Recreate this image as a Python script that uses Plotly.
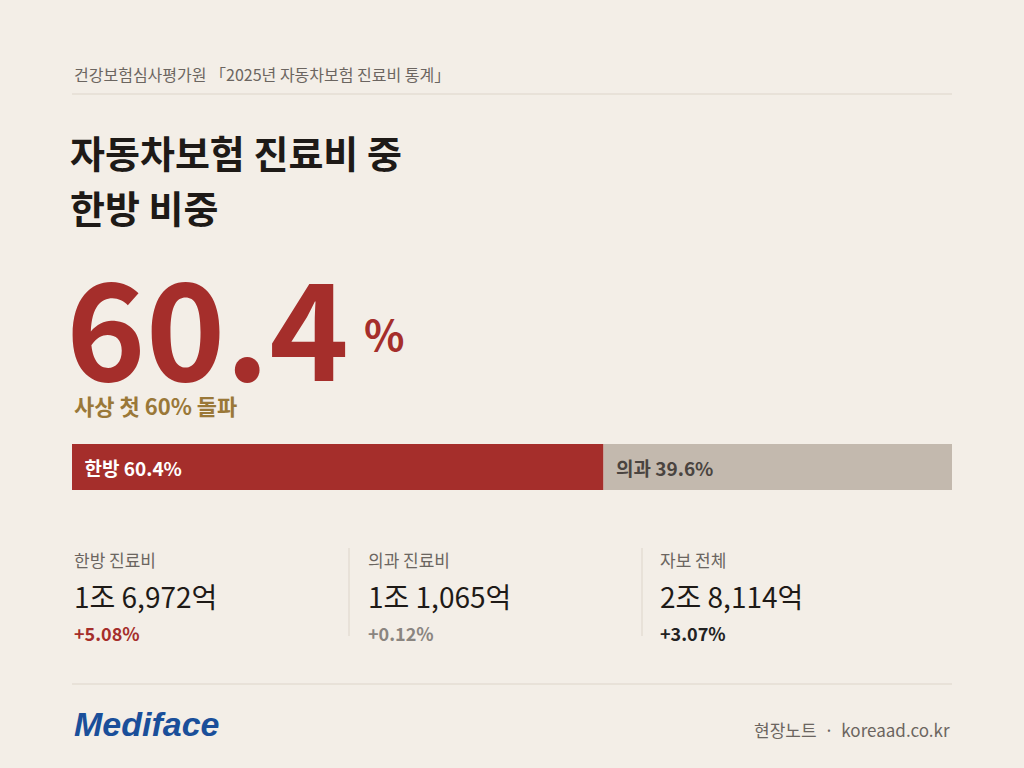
import plotly.graph_objects as go

W, H = 1024, 768
BG = "#f3eee7"
RED = "#a52e2b"
GREY = "#c3b9ae"
GOLD = "#9a7838"
SANS = "Noto Sans CJK KR"

# data
shares = [60.4, 39.6]
share_labels = ["한방", "의과"]
stat_titles = ["한방 진료비", "의과 진료비", "자보 전체"]
stat_values = ["1조 6,972억", "1조 1,065억", "2조 8,114억"]
stat_changes = ["+5.08%", "+0.12%", "+3.07%"]
stat_colors = [RED, "#8a8580", "#222222"]


def px(x):
    return x / W


def py(y):
    return 1 - y / H


fig = go.Figure()

bar_colors = [RED, GREY]
text_colors = ["white", "#4a4440"]
base = 0
for lab, val, c, tc in zip(share_labels, shares, bar_colors, text_colors):
    fig.add_trace(go.Bar(
        x=[val], y=[0], base=base, orientation="h", marker=dict(color=c, line=dict(width=0)),
        width=1, text=[f"\u2002<b>{lab} {val}%</b>"], textposition="inside", insidetextanchor="start",
        textfont=dict(family=SANS, size=19, color=tc), showlegend=False, hoverinfo="skip"))
    base += val

fig.update_layout(
    width=W, height=H, margin=dict(l=0, r=0, t=0, b=0),
    paper_bgcolor=BG, plot_bgcolor=BG, barmode="overlay",
    xaxis=dict(domain=[px(72), px(952)], range=[0, 100], visible=False, fixedrange=True),
    yaxis=dict(domain=[py(490), py(444)], range=[-0.5, 0.5], visible=False, fixedrange=True),
)

ann = []


def text(x, y, s, size, color, xanchor="left", yanchor="middle", family=SANS):
    ann.append(dict(x=px(x), y=py(y), xref="paper", yref="paper", text=s, showarrow=False,
                    xanchor=xanchor, yanchor=yanchor, align="left",
                    font=dict(family=family, size=size, color=color)))


text(72, 74, "건강보험심사평가원 「2025년 자동차보험 진료비 통계」", 16, "#6b6560")
text(68, 152, "<b>자동차보험 진료비 중</b>", 38, "#1e1a17")
text(68, 206, "<b>한방 비중</b>", 38, "#1e1a17")
text(64, 322, "<b>60.4</b>", 135, RED)
text(362, 332, "<b>%</b>", 42, RED)
text(72, 405, "<b>사상 첫 60% 돌파</b>", 22, GOLD)

xs = [72, 366, 658]
for x, t, v, ch, c in zip(xs, stat_titles, stat_values, stat_changes, stat_colors):
    text(x, 559, t, 17, "#6b6560")
    text(x, 596, v, 28, "#1e1a17")
    text(x, 633, f"<b>{ch}</b>", 18, c)

text(72, 724, "<b><i>Mediface</i></b>", 34, "#1a4f9a", family="Liberation Sans")
text(952, 729, "현장노트  ·  koreaad.co.kr", 17, "#6b6560", xanchor="right")

line_style = dict(color="#ddd5ca", width=1)
shapes = [
    dict(type="line", xref="paper", yref="paper", x0=px(72), x1=px(952), y0=py(94), y1=py(94), line=line_style),
    dict(type="line", xref="paper", yref="paper", x0=px(72), x1=px(952), y0=py(684), y1=py(684), line=line_style),
    dict(type="line", xref="paper", yref="paper", x0=px(349), x1=px(349), y0=py(548), y1=py(636), line=line_style),
    dict(type="line", xref="paper", yref="paper", x0=px(642), x1=px(642), y0=py(548), y1=py(636), line=line_style),
]

fig.update_layout(annotations=ann, shapes=shapes)
fig.write_html("out.html", config={"displayModeBar": False})

# drop the browser's default body margin so the figure fills the window
with open("out.html", encoding="utf-8") as f:
    page = f.read()
page = page.replace("<body>", f"<body style=\"margin:0;background:{BG}\">", 1)
with open("out.html", "w", encoding="utf-8") as f:
    f.write(page)
